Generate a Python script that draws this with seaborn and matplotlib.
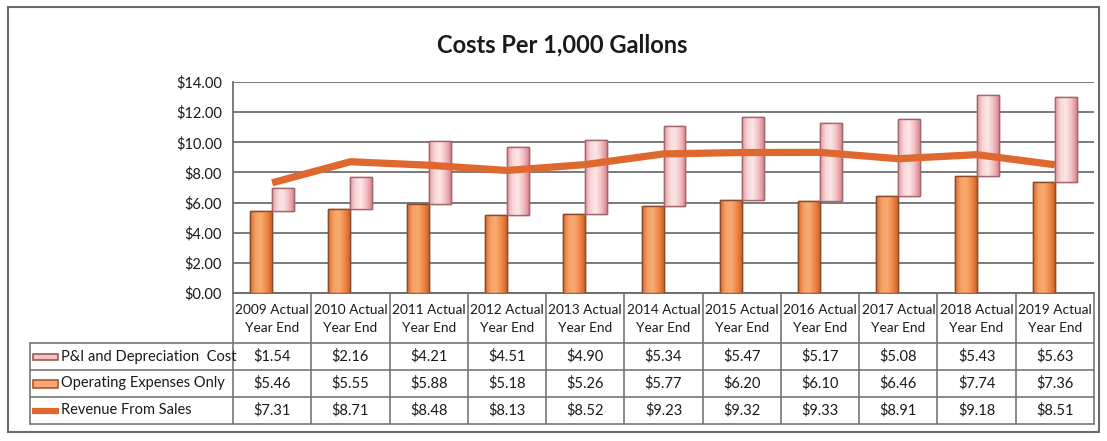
import numpy as np
import pandas as pd
import matplotlib
matplotlib.use("Agg")
import matplotlib.pyplot as plt
import seaborn as sns
from matplotlib.patches import Rectangle
from matplotlib.ticker import FuncFormatter

# ---------------- data ----------------
years = ["2009", "2010", "2011", "2012", "2013", "2014", "2015", "2016", "2017", "2018", "2019"]
col_labels = [f"{y} Actual\nYear End" for y in years]
pi_cost = [1.54, 2.16, 4.21, 4.51, 4.90, 5.34, 5.47, 5.17, 5.08, 5.43, 5.63]
op_exp = [5.46, 5.55, 5.88, 5.18, 5.26, 5.77, 6.20, 6.10, 6.46, 7.74, 7.36]
revenue = [7.31, 8.71, 8.48, 8.13, 8.52, 9.23, 9.32, 9.33, 8.91, 9.18, 8.51]
series_names = ["P&I and Depreciation  Cost", "Operating Expenses Only", "Revenue From Sales"]
title = "Costs Per 1,000 Gallons"
yticks = [0, 2, 4, 6, 8, 10, 12, 14]

# ---------------- style ----------------
sns.set_theme(style="white")
plt.rcParams["font.family"] = ["Lato", "DejaVu Sans"]

ORANGE = "#EE8442"
ORANGE_EDGE = "#8a4a2c"
PINK = "#F4C3C6"
PINK_EDGE = "#a4666d"
LINE = "#DF682F"
GRID = "#707070"
TXT = "#1a1a1a"

W, H = 1107, 441
fig = plt.figure(figsize=(W / 100, H / 100), dpi=100)

bg = fig.add_axes([0, 0, 1, 1])
bg.set_xlim(0, W)
bg.set_ylim(H, 0)
bg.axis("off")

ax_l, ax_r, ax_t, ax_b = 233, 1094, 82, 293
ax = fig.add_axes([ax_l / W, 1 - ax_b / H, (ax_r - ax_l) / W, (ax_b - ax_t) / H])
ax.patch.set_alpha(0)

n = len(years)
x = np.arange(n)
w = 0.28
df = pd.DataFrame({"year": years, "x": x, "op": op_exp, "pi": pi_cost, "rev": revenue})

# operating expenses (left of centre)
sns.barplot(x=df["x"] - w / 2, y=df["op"], native_scale=True, width=w, ax=ax,
            color=ORANGE, edgecolor=ORANGE_EDGE, linewidth=1.0, saturation=1, zorder=3)
# P&I floating on top of operating expenses (right of centre)
ax.bar(df["x"] + w / 2, df["pi"], bottom=df["op"], width=w,
       color=PINK, edgecolor=PINK_EDGE, linewidth=1.0, zorder=3)
# revenue line
sns.lineplot(x=df["x"], y=df["rev"], ax=ax, color=LINE, linewidth=5.2, zorder=5,
             solid_capstyle="butt")

ax.set_xlim(-0.5, n - 0.5)
ax.set_ylim(0, 14)

# gradients on bars
def shade(patch, cmap_colors, zorder):
    bb = patch.get_bbox()
    cmap = matplotlib.colors.LinearSegmentedColormap.from_list("g", cmap_colors)
    grad = np.linspace(0, 1, 64).reshape(1, -1)
    im = ax.imshow(grad, extent=[bb.x0, bb.x1, bb.y0, bb.y1], aspect="auto",
                   cmap=cmap, zorder=zorder, origin="lower")
    im.set_clip_path(patch)

for p in list(ax.patches):
    fc = matplotlib.colors.to_hex(p.get_facecolor())
    if fc.lower() == ORANGE.lower():
        shade(p, ["#dc6c2e", "#f5a065", "#f8ac72", "#f08a4a", "#d2662a"], 3.5)
    else:
        shade(p, ["#e39aa1", "#f8d6d8", "#fbe6e7", "#f3c0c4", "#d98890"], 3.5)
    edge = p.get_edgecolor()
    ax.add_patch(Rectangle(p.get_xy(), p.get_width(), p.get_height(), fill=False,
                           edgecolor=edge, linewidth=1.0, zorder=4))

ax.set_ylim(0, 14)
ax.set_xlim(-0.5, n - 0.5)
ax.set_yticks(yticks)
ax.yaxis.set_major_formatter(FuncFormatter(lambda v, _: f"${v:.2f}"))
ax.tick_params(axis="y", labelsize=10.5, pad=8, length=0, labelcolor=TXT)
ax.set_xticks([])
ax.set_xlabel("")
ax.set_ylabel("")
ax.yaxis.grid(True, color=GRID, linewidth=1.3)
ax.set_axisbelow(True)
for s in ["top", "right"]:
    ax.spines[s].set_visible(False)
for s in ["left", "bottom"]:
    ax.spines[s].set_color(GRID)
    ax.spines[s].set_linewidth(1.3)
if ax.get_legend():
    ax.get_legend().remove()

# ---------------- title ----------------
bg.text(562, 45, title, ha="center", va="center", fontsize=17, fontweight="bold", color=TXT)

# ---------------- outer frame ----------------
bg.add_patch(Rectangle((8, 7), 1091, 425, fill=False, edgecolor="#6a6a6a", linewidth=1.5))

# ---------------- data table ----------------
colw = (ax_r - ax_l) / n
row_y = [293, 343, 370, 397, 424]
tab_left = 30
LC = "#777777"
lw = 1.2
bg.plot([ax_l, ax_r], [row_y[0], row_y[0]], color=LC, lw=lw)
for yy in row_y[1:]:
    bg.plot([tab_left, ax_r], [yy, yy], color=LC, lw=lw)
for i in range(n + 1):
    xx = ax_l + i * colw
    bg.plot([xx, xx], [row_y[0], row_y[-1]], color=LC, lw=lw)
bg.plot([tab_left, tab_left], [row_y[1], row_y[-1]], color=LC, lw=lw)

fs = 10.5
for i, lab in enumerate(col_labels):
    cx = ax_l + (i + 0.5) * colw
    bg.text(cx, (row_y[0] + row_y[1]) / 2 + 1, lab, ha="center", va="center",
            fontsize=9.8, color=TXT, linespacing=1.6)

rows = [pi_cost, op_exp, revenue]
for r, vals in enumerate(rows):
    cy = (row_y[r + 1] + row_y[r + 2]) / 2
    for i, v in enumerate(vals):
        cx = ax_l + (i + 0.5) * colw
        bg.text(cx, cy, f"${v:.2f}", ha="center", va="center", fontsize=fs, color=TXT)
    bg.text(61, cy, series_names[r], ha="left", va="center", fontsize=fs, color=TXT)

# legend keys
c1 = (row_y[1] + row_y[2]) / 2
c2 = (row_y[2] + row_y[3]) / 2
c3 = (row_y[3] + row_y[4]) / 2
bg.add_patch(Rectangle((33, c1 - 3), 25, 6, facecolor=PINK, edgecolor="#9c5a50", lw=1.2))
bg.add_patch(Rectangle((33, c2 - 4), 25, 8, facecolor="#F3A77A", edgecolor="#b0562a", lw=1.2))
bg.plot([32, 59], [c3, c3], color=LINE, lw=4.5, solid_capstyle="butt")

fig.savefig("out.png", dpi=100)
